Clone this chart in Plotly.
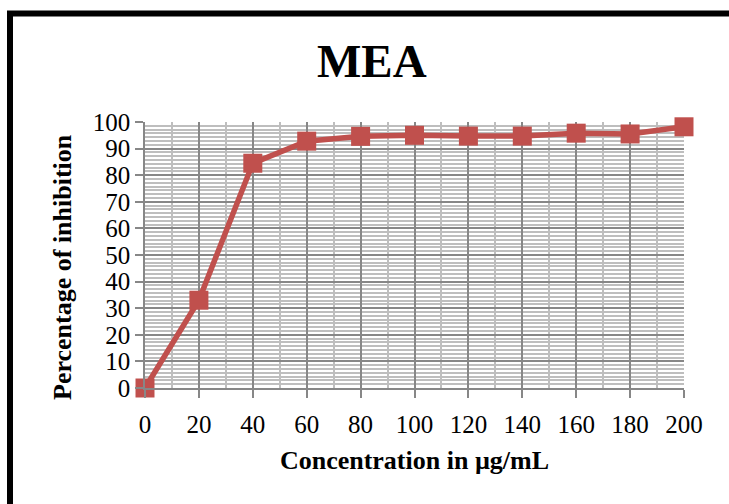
import plotly.graph_objects as go

concentration = [0, 20, 40, 60, 80, 100, 120, 140, 160, 180, 200]
inhibition = [0, 33, 84.5, 92.8, 94.6, 95.0, 94.7, 94.7, 95.8, 95.5, 98.2]
x_ticks = [0, 20, 40, 60, 80, 100, 120, 140, 160, 180, 200]
y_ticks = [0, 10, 20, 30, 40, 50, 60, 70, 80, 90, 100]

red = "#C0504D"
major = "#878787"
minor = "#BEBEBE"
serif = "Liberation Serif, Times New Roman, serif"

fig = go.Figure()
fig.add_trace(go.Scatter(
    x=concentration, y=inhibition, mode="lines+markers",
    line=dict(color=red, width=5.5),
    marker=dict(symbol="square", size=19, color=red),
    cliponaxis=False, showlegend=False,
))

plot_w = 729 - 145 - 45
plot_h = 504 - 122 - 116

fig.update_layout(
    width=729, height=504,
    margin=dict(l=145, r=45, t=122, b=116),
    paper_bgcolor="white", plot_bgcolor="white",
    font=dict(family=serif, color="black"),
    title=dict(text="<b>MEA</b>", font=dict(size=47, family=serif, color="black"),
               x=0.51, xref="container", xanchor="center",
               y=1 - 61 / 504, yref="container", yanchor="middle"),
    xaxis=dict(
        range=[0, 200], tickvals=x_ticks, ticktext=[str(v) for v in x_ticks],
        showgrid=True, gridcolor=major, gridwidth=1.5,
        minor=dict(dtick=10, tick0=0, showgrid=True, gridcolor=minor, gridwidth=1.5, ticks=""),
        ticks="outside", ticklen=8, tickcolor=major, tickwidth=1.5,
        tickfont=dict(size=25, family=serif, color="black"),
        ticklabelstandoff=5,
        showline=True, linecolor=major, linewidth=1.5, zeroline=False,
        title=dict(text="<b>Concentration in µg/mL</b>", font=dict(size=26, family=serif, color="black"), standoff=14),
    ),
    yaxis=dict(
        range=[0, 100], tickvals=y_ticks, ticktext=[str(v) for v in y_ticks],
        showgrid=True, gridcolor=major, gridwidth=1.5,
        minor=dict(dtick=10 / 7, tick0=0, showgrid=True, gridcolor=minor, gridwidth=1.5, ticks=""),
        ticks="outside", ticklen=8, tickcolor=major, tickwidth=1.5,
        tickfont=dict(size=25, family=serif, color="black"),
        showline=True, linecolor=major, linewidth=1.5, zeroline=False,
    ),
)

fig.add_annotation(text="<b>Percentage of inhibition</b>", textangle=-90,
                   xref="paper", yref="paper",
                   x=(62 - 145) / plot_w, y=(388 - 267) / plot_h,
                   xanchor="center", yanchor="middle", showarrow=False,
                   font=dict(size=26, family=serif, color="black"))

# outer black frame (extends beyond right/bottom edges like the reference)
fig.add_shape(type="rect", xref="paper", yref="paper",
              x0=(10 - 145) / plot_w, x1=(760 - 145) / plot_w,
              y0=(388 - 540) / plot_h, y1=(388 - 13.5) / plot_h,
              line=dict(color="black", width=6), fillcolor="rgba(0,0,0,0)", layer="above")

fig.write_html("out.html")
